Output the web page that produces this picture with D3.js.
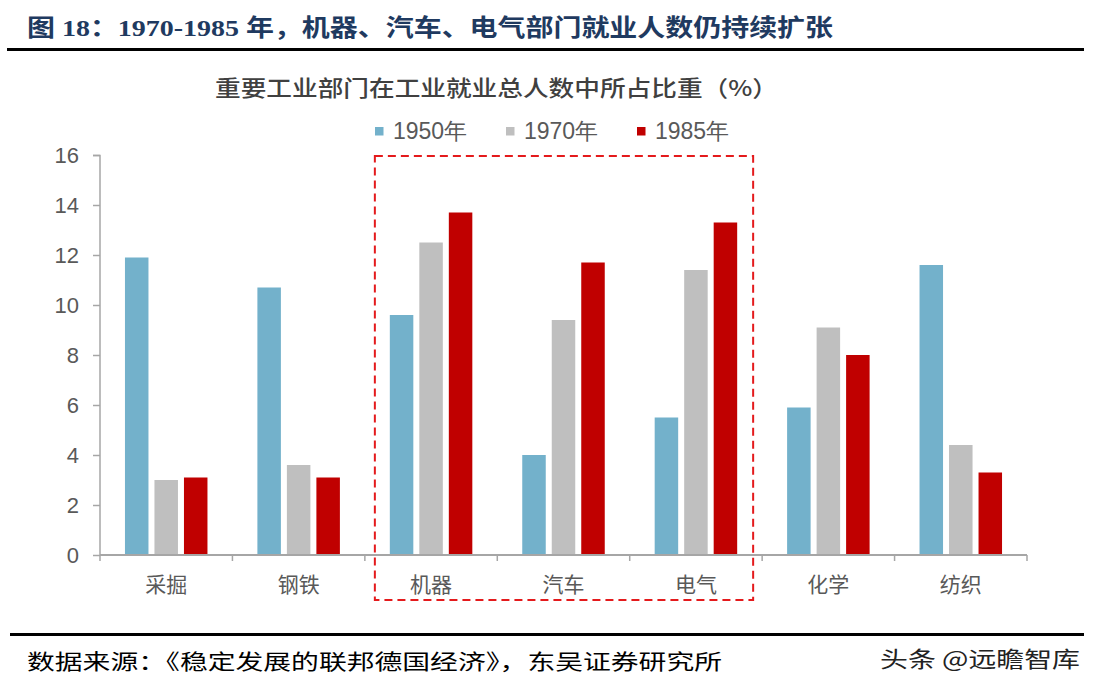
<!DOCTYPE html>
<html><head><meta charset="utf-8">
<script src="https://cdn.jsdelivr.net/npm/d3@7"></script>
<style>html,body{margin:0;padding:0;background:#fff;}svg{display:block;}</style>
</head><body>
<svg id="c" width="1103" height="689"></svg>
<script>
const categories = ["采掘","钢铁","机器","汽车","电气","化学","纺织"];
const seriesNames = ["1950年","1970年","1985年"];
const v1950 = [11.9, 10.7, 9.6, 4.0, 5.5, 5.9, 11.6];
const v1970 = [3.0, 3.6, 12.5, 9.4, 11.4, 9.1, 4.4];
const v1985 = [3.1, 3.1, 13.7, 11.7, 13.3, 8.0, 3.3];
const yTicks = [0,2,4,6,8,10,12,14,16];
const highlighted = ["机器","汽车","电气"];
const colors = ["#73B1CB","#BFBFBF","#C00000"];

const svg = d3.select("#c");
const cjk = "'Noto Sans CJK SC','Noto Sans',sans-serif";
const num = "'Liberation Sans',Arial,sans-serif";

// Header
svg.append("text").attr("x",27).attr("y",36)
  .attr("font-family","'Liberation Serif','Noto Sans CJK SC',serif")
  .attr("font-weight","bold").attr("font-size",24).attr("fill","#1F3A60")
  .attr("textLength",806).attr("lengthAdjust","spacingAndGlyphs")
  .text("图 18：1970-1985 年，机器、汽车、电气部门就业人数仍持续扩张");
svg.append("rect").attr("x",7).attr("y",48).attr("width",1077).attr("height",3).attr("fill","#000");

svg.append("text").attr("x",215).attr("y",96)
  .attr("font-family",cjk).attr("font-weight",500).attr("font-size",22).attr("fill","#404040")
  .attr("textLength",563).attr("lengthAdjust","spacingAndGlyphs")
  .text("重要工业部门在工业就业总人数中所占比重（%）");

// Scales
const x0 = d3.scaleBand().domain(categories).range([100,1027]).paddingInner(0).paddingOuter(0);
const step = 29.5, bw = 23.5;
const x1 = d3.scaleBand().domain(seriesNames).range([-step*1.5, step*1.5]).padding(0);
const y = d3.scaleLinear().domain([0,16]).range([555,155]);

// Highlight rect
const hx0 = x0(highlighted[0]) + 10, hx1 = x0(highlighted[2]) + x0.bandwidth() - 9;
svg.append("rect").attr("x",hx0).attr("y",156).attr("width",hx1-hx0).attr("height",444)
  .attr("fill","none").attr("stroke","#E41A1C").attr("stroke-width",2).attr("stroke-dasharray","8,5");

// Bars
const series = [v1950, v1970, v1985];
series.forEach((vals, si) => {
  svg.append("g").selectAll("rect").data(categories).join("rect")
    .attr("x", (c) => x0(c) + x0.bandwidth()/2 + x1(seriesNames[si]) + (step-bw)/2)
    .attr("y", (c,i) => y(vals[i]))
    .attr("width", bw)
    .attr("height", (c,i) => y(0) - y(vals[i]))
    .attr("fill", colors[si]);
});

// Y axis
const yAxis = svg.append("g").attr("transform","translate(100,0)")
  .call(d3.axisLeft(y).tickValues(yTicks).tickSize(7).tickPadding(14).tickFormat(d3.format("d")));
yAxis.select(".domain").attr("stroke","#A6A6A6").attr("stroke-width",1.5).attr("d","M-7,155.5H0V555");
yAxis.selectAll(".tick line").attr("stroke","#A6A6A6").attr("stroke-width",1.5);
yAxis.selectAll(".tick text").attr("font-family",num).attr("font-size",22).attr("fill","#595959");

// X axis
const xAxis = svg.append("g").attr("transform","translate(0,555)");
xAxis.append("line").attr("x1",100).attr("x2",1027).attr("y1",0).attr("y2",0)
  .attr("stroke","#A6A6A6").attr("stroke-width",2);
const bounds = categories.map(c => x0(c)).concat([x0(categories[categories.length-1]) + x0.bandwidth()]);
xAxis.selectAll("line.t").data(bounds).join("line").attr("class","t")
  .attr("x1",d=>d).attr("x2",d=>d).attr("y1",0).attr("y2",6)
  .attr("stroke","#A6A6A6").attr("stroke-width",1.5);
xAxis.selectAll("text").data(categories).join("text")
  .attr("x", c => x0(c) + x0.bandwidth()/2).attr("y",37)
  .attr("text-anchor","middle").attr("font-family",cjk).attr("font-size",21).attr("fill","#595959")
  .text(d=>d);

// Legend
const legX = [375, 506, 637];
const lg = svg.append("g");
seriesNames.forEach((s,i) => {
  lg.append("rect").attr("x",legX[i]).attr("y",127).attr("width",8.5).attr("height",8.5).attr("fill",colors[i]);
  lg.append("text").attr("x",legX[i]+18).attr("y",139).attr("font-family",num).attr("font-size",23)
    .attr("fill","#595959").text(s);
});

// Footer
svg.append("rect").attr("x",10).attr("y",633).attr("width",1074).attr("height",3).attr("fill","#000");
svg.append("text").attr("x",27).attr("y",669)
  .attr("font-family",cjk).attr("font-size",21).attr("fill","#000")
  .attr("textLength",695).attr("lengthAdjust","spacingAndGlyphs")
  .text("数据来源：《稳定发展的联邦德国经济》，东吴证券研究所");
svg.append("text").attr("x",880).attr("y",667)
  .attr("font-family",cjk).attr("font-size",22).attr("fill","#222")
  .attr("textLength",200).attr("lengthAdjust","spacingAndGlyphs")
  .text("头条 @远瞻智库");
</script>
</body></html>
